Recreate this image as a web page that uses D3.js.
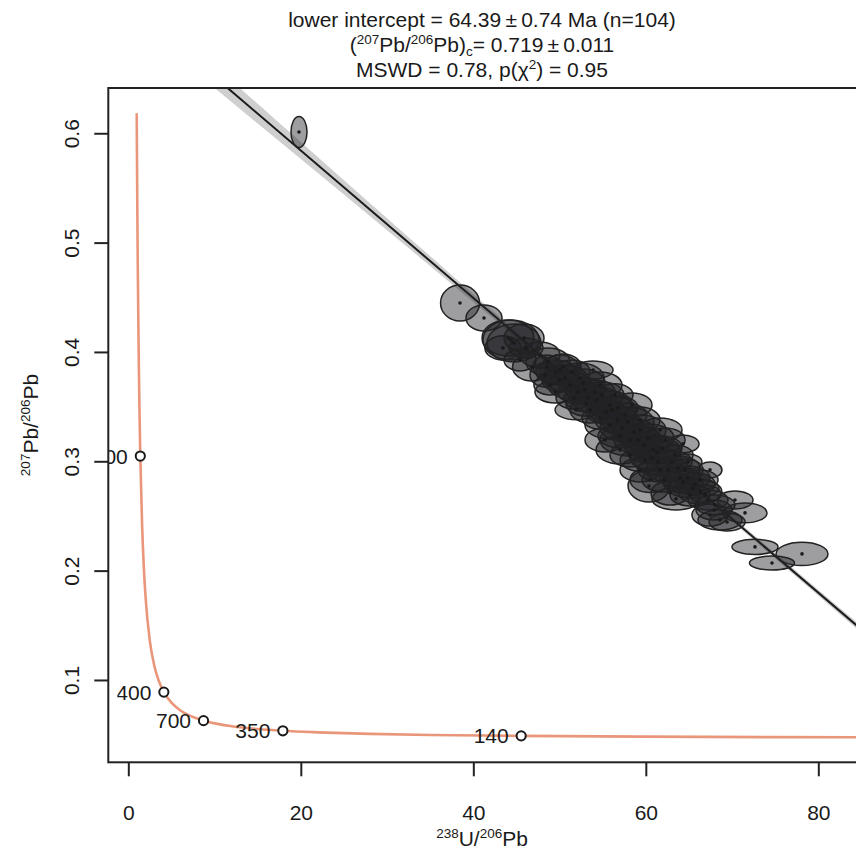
<!DOCTYPE html>
<html>
<head>
<meta charset="utf-8">
<script src="https://cdn.jsdelivr.net/npm/d3@7"></script>
<style>
  body { margin: 0; background: #fff; }
  svg { display: block; font-family: "Liberation Sans", Arial, sans-serif; }
</style>
</head>
<body>
<svg></svg>
<script>
// 238U/206Pb and 207Pb/206Pb of each aliquot, with half-widths of the error ellipses
let ex = [19.79, 38.46, 41.24, 44.37, 44.02, 44.72, 46.11, 43.44, 46.81, 48.55, 50.05, 45.42,
  50.40, 49.47, 51.91, 54.34, 53.88, 51.21, 52.95, 52.37, 54.69, 55.85, 50.05, 53.53, 48.31,
  56.66, 58.17, 60.83, 61.30, 55.85, 57.59, 59.33, 55.27, 57.01, 59.91, 62.23, 63.39, 59.33,
  61.65, 64.31, 64.89, 58.40, 56.43,
  60.37, 63.50, 65.47, 60.49, 62.81, 61.65, 63.97, 66.28, 66.86, 64.55, 59.33, 67.44,
  71.50, 68.60, 69.42, 67.44, 70.34, 68.02,
  72.66, 74.63, 78.11,
  47.73, 48.66, 49.59, 50.63, 51.44, 52.14, 52.72, 53.30, 54.11, 54.92, 55.39, 56.08, 56.78,
  57.24, 57.94, 58.63, 59.10, 59.79, 60.26, 60.72, 61.42, 61.88, 62.57, 63.04, 63.73, 64.31,
  64.89, 65.71, 66.28, 67.21, 67.91, 54.69, 53.07, 51.68, 57.01, 58.17, 62.11, 65.13, 48.89,
  45.88];
let ey = [0.6012, 0.4448, 0.4311, 0.4110, 0.4128, 0.4082, 0.4037, 0.4037, 0.3863, 0.3863, 0.3835, 0.3927,
  0.3863, 0.3634, 0.3470, 0.3561, 0.3835, 0.3698, 0.3653, 0.3762, 0.3698, 0.3515, 0.3744, 0.3470, 0.3790,
  0.3378, 0.3195, 0.3104, 0.3085, 0.3332, 0.3424, 0.3287, 0.3195, 0.3104, 0.3012, 0.3195, 0.3058, 0.3378,
  0.3287, 0.3159, 0.2994, 0.3515, 0.3607,
  0.2774, 0.2656, 0.2756, 0.2829, 0.2710, 0.2921, 0.2848, 0.2829, 0.2701, 0.2921, 0.2921, 0.2921,
  0.2528, 0.2463, 0.2445, 0.2509, 0.2646, 0.2601,
  0.2217, 0.2070, 0.2153,
  0.3973, 0.3909, 0.3817, 0.3762, 0.3817, 0.3634, 0.3717, 0.3579, 0.3634, 0.3607, 0.3451, 0.3470, 0.3488,
  0.3305, 0.3360, 0.3268, 0.3195, 0.3150, 0.3214, 0.3031, 0.2994, 0.3122, 0.2921, 0.2994, 0.2939, 0.2811,
  0.2848, 0.2793, 0.2720, 0.2646, 0.2555, 0.3396, 0.3524, 0.3579, 0.3232, 0.3058, 0.2829, 0.2692, 0.3698,
  0.4128];
let sx = [0.93, 2.26, 2.09, 3.25, 3.01, 3.13, 1.97, 2.09, 2.26, 1.62, 2.32, 1.86,
  2.09, 2.32, 2.43, 2.90, 2.32, 2.55, 2.32, 2.78, 2.55, 2.55, 2.09, 2.32, 1.74,
  2.55, 3.48, 3.13, 2.78, 2.90, 2.55, 3.01, 2.32, 2.78, 2.90, 2.32, 2.09, 2.32,
  2.55, 1.86, 1.62, 2.32, 2.09,
  2.43, 2.78, 3.01, 2.32, 2.20, 2.55, 2.32, 2.09, 1.86, 2.09, 2.32, 1.39,
  2.55, 2.55, 2.09, 2.09, 2.09, 2.32,
  2.67, 2.61, 3.01,
  2.32, 2.55, 2.32, 2.55, 2.09, 2.32, 2.55, 2.78, 2.32, 2.55, 2.32, 2.78, 2.32,
  2.55, 3.01, 2.55, 2.78, 2.32, 3.01, 2.55, 2.78, 2.32, 2.55, 2.32, 2.55, 2.32,
  2.55, 2.32, 2.55, 2.32, 2.09, 2.09, 2.32, 2.09, 2.55, 2.32, 2.55, 2.32, 1.86,
  2.32];
let sy = [0.0142, 0.0165, 0.0119, 0.0183, 0.0165, 0.0174, 0.0091, 0.0110, 0.0128, 0.0110, 0.0137, 0.0101,
  0.0119, 0.0101, 0.0091, 0.0119, 0.0082, 0.0128, 0.0110, 0.0137, 0.0119, 0.0128, 0.0110, 0.0119, 0.0110,
  0.0119, 0.0146, 0.0128, 0.0101, 0.0128, 0.0110, 0.0137, 0.0110, 0.0128, 0.0110, 0.0110, 0.0091, 0.0119,
  0.0110, 0.0082, 0.0073, 0.0110, 0.0101,
  0.0146, 0.0101, 0.0091, 0.0114, 0.0110, 0.0110, 0.0101, 0.0091, 0.0082, 0.0101, 0.0110, 0.0073,
  0.0091, 0.0091, 0.0082, 0.0101, 0.0082, 0.0091,
  0.0069, 0.0064, 0.0107,
  0.0119, 0.0128, 0.0110, 0.0119, 0.0110, 0.0110, 0.0128, 0.0128, 0.0110, 0.0119, 0.0110, 0.0128, 0.0110,
  0.0119, 0.0137, 0.0119, 0.0128, 0.0110, 0.0128, 0.0110, 0.0119, 0.0110, 0.0110, 0.0101, 0.0110, 0.0101,
  0.0110, 0.0101, 0.0110, 0.0091, 0.0091, 0.0101, 0.0110, 0.0101, 0.0110, 0.0110, 0.0110, 0.0101, 0.0091,
  0.0128];

// concordia curve read along its length
let concX = [0.975, 1.0, 1.05, 1.1, 1.2, 1.3, 1.39, 1.6, 1.8, 2.0, 2.5, 3.0, 3.5, 4.12, 5, 6, 7,
  8.72, 10, 12, 15, 17.92, 22, 28, 35, 45.55, 60, 75, 90, 100];
let concY = [0.6182, 0.5841, 0.5252, 0.4762, 0.3997, 0.3436, 0.3048, 0.2416, 0.2028, 0.1759, 0.1355,
  0.1135, 0.0998, 0.0889, 0.0792, 0.0723, 0.0678, 0.0628, 0.0603, 0.0577, 0.0551, 0.0535, 0.0521,
  0.0507, 0.0497, 0.0489, 0.0482, 0.0477, 0.0475, 0.0473];

// age marks on the concordia (Ma)
let ageLabels = ["3500", "1400", "700", "350", "140"];
let ageX = [1.39, 4.12, 8.72, 17.92, 45.55];
let ageY = [0.3048, 0.0889, 0.0628, 0.0535, 0.0489];

// isochron: common Pb intercept and lower intercept
let lineX = [0, 99.6];
let lineY = [0.719, 0.0477];
let bandX = [0, 10, 20, 30, 40, 50, 60, 70, 80, 90, 100];
let bandH = [0.0125, 0.0102, 0.0078, 0.0055, 0.0037, 0.0026, 0.0022, 0.0023, 0.0028, 0.0036, 0.0045];

let xTicks = [0, 20, 40, 60, 80];
let yTicks = [0.1, 0.2, 0.3, 0.4, 0.5, 0.6];

let width = 856;
let height = 849;
let pLeft = 108.3, pRight = 856.35, pTop = 88, pBottom = 762.3;
let fs = 21, fsSmall = 13.5;

let svg = d3.select("svg").attr("width", width).attr("height", height);

let xScale = d3.scaleLinear().domain([-2.32, 84.41]).range([pLeft, pRight]);
let yScale = d3.scaleLinear().domain([0.0247, 0.6414]).range([pBottom, pTop]);

let defs = svg.append("defs");
defs.append("clipPath").attr("id", "plotclip")
  .append("rect")
  .attr("x", pLeft).attr("y", pTop)
  .attr("width", pRight - pLeft).attr("height", pBottom - pTop);
// the thousands digit of the 1400 label falls outside the frame in the original
defs.append("clipPath").attr("id", "labelclip")
  .append("rect")
  .attr("x", pLeft + 9).attr("y", pTop)
  .attr("width", pRight - pLeft).attr("height", pBottom - pTop);

let plot = svg.append("g").attr("clip-path", "url(#plotclip)");

// confidence band
let bandIdx = d3.range(bandX.length);
let lineAt = (x) => lineY[0] + (lineY[1] - lineY[0]) * (x - lineX[0]) / (lineX[1] - lineX[0]);
plot.append("path")
  .datum(bandIdx)
  .attr("fill", "#cfcfcf")
  .attr("d", d3.area()
    .x((i) => xScale(bandX[i]))
    .y0((i) => yScale(lineAt(bandX[i]) - bandH[i]))
    .y1((i) => yScale(lineAt(bandX[i]) + bandH[i]))
    .curve(d3.curveMonotoneX));

plot.append("line")
  .attr("x1", xScale(lineX[0])).attr("y1", yScale(lineY[0]))
  .attr("x2", xScale(lineX[1])).attr("y2", yScale(lineY[1]))
  .attr("stroke", "#1a1a1a")
  .attr("stroke-width", 2);

// concordia
plot.append("path")
  .datum(d3.range(concX.length))
  .attr("fill", "none")
  .attr("stroke", "#e9967a")
  .attr("stroke-width", 2.6)
  .attr("d", d3.line()
    .x((i) => xScale(concX[i]))
    .y((i) => yScale(concY[i]))
    .curve(d3.curveMonotoneX));

// error ellipses
let idx = d3.range(ex.length);
plot.selectAll("ellipse.err")
  .data(idx)
  .enter()
  .append("ellipse")
  .attr("class", "err")
  .attr("cx", (i) => xScale(ex[i]))
  .attr("cy", (i) => yScale(ey[i]))
  .attr("rx", (i) => xScale(ex[i] + sx[i]) - xScale(ex[i]))
  .attr("ry", (i) => yScale(ey[i]) - yScale(ey[i] + sy[i]))
  .attr("fill", "rgba(34,34,38,0.44)")
  .attr("stroke", "#222")
  .attr("stroke-width", 1.5);

plot.selectAll("circle.ctr")
  .data(idx)
  .enter()
  .append("circle")
  .attr("class", "ctr")
  .attr("cx", (i) => xScale(ex[i]))
  .attr("cy", (i) => yScale(ey[i]))
  .attr("r", 1.8)
  .attr("fill", "#1a1a1a");

// age marks
let ages = d3.range(ageLabels.length);
plot.selectAll("circle.age")
  .data(ages)
  .enter()
  .append("circle")
  .attr("class", "age")
  .attr("cx", (i) => xScale(ageX[i]))
  .attr("cy", (i) => yScale(ageY[i]))
  .attr("r", 4.6)
  .attr("fill", "#fff")
  .attr("stroke", "#1a1a1a")
  .attr("stroke-width", 2);

svg.selectAll("text.age")
  .data(ages)
  .enter()
  .append("text")
  .attr("class", "age")
  .attr("clip-path", (i) => (i === 1 ? "url(#labelclip)" : "url(#plotclip)"))
  .attr("x", (i) => xScale(ageX[i]) - 12.5)
  .attr("y", (i) => yScale(ageY[i]))
  .attr("dy", "0.36em")
  .attr("text-anchor", "end")
  .attr("font-size", fs)
  .attr("fill", "#1a1a1a")
  .text((i) => ageLabels[i]);

// frame
svg.append("rect")
  .attr("x", pLeft).attr("y", pTop)
  .attr("width", pRight - pLeft + 4).attr("height", pBottom - pTop)
  .attr("fill", "none")
  .attr("stroke", "#222")
  .attr("stroke-width", 2);

// axes
let xAxis = d3.axisBottom(xScale).tickValues(xTicks).tickSize(14).tickPadding(29).tickFormat(d3.format("d"));
let gx = svg.append("g")
  .attr("transform", "translate(0," + pBottom + ")")
  .call(xAxis);
gx.select(".domain").remove();
gx.selectAll("line").attr("stroke", "#222").attr("stroke-width", 2);
gx.selectAll("text").attr("font-size", fs).attr("fill", "#1a1a1a").attr("font-family", "Liberation Sans, Arial, sans-serif");

let yAxis = d3.axisLeft(yScale).tickValues(yTicks).tickSize(14).tickFormat(d3.format(".1f"));
let gy = svg.append("g")
  .attr("transform", "translate(" + pLeft + ",0)")
  .call(yAxis);
gy.select(".domain").remove();
gy.selectAll("line").attr("stroke", "#222").attr("stroke-width", 2);
gy.selectAll("text")
  .attr("font-size", fs).attr("fill", "#1a1a1a")
  .attr("font-family", "Liberation Sans, Arial, sans-serif")
  .attr("text-anchor", "middle")
  .attr("x", 0).attr("dy", 0)
  .attr("transform", "translate(-29,0) rotate(-90)");

// axis titles
let xt = svg.append("text")
  .attr("x", 482).attr("y", 846)
  .attr("text-anchor", "middle")
  .attr("font-size", fs).attr("fill", "#1a1a1a");
xt.append("tspan").attr("font-size", fsSmall).attr("dy", -8).text("238");
xt.append("tspan").attr("dy", 8).text("U/");
xt.append("tspan").attr("font-size", fsSmall).attr("dy", -8).text("206");
xt.append("tspan").attr("dy", 8).text("Pb");

let yt = svg.append("text")
  .attr("transform", "translate(38,425) rotate(-90)")
  .attr("text-anchor", "middle")
  .attr("font-size", fs).attr("fill", "#1a1a1a");
yt.append("tspan").attr("font-size", fsSmall).attr("dy", -8).text("207");
yt.append("tspan").attr("dy", 8).text("Pb/");
yt.append("tspan").attr("font-size", fsSmall).attr("dy", -8).text("206");
yt.append("tspan").attr("dy", 8).text("Pb");

// title
svg.append("text")
  .attr("x", 482).attr("y", 27)
  .attr("text-anchor", "middle")
  .attr("font-size", fs).attr("fill", "#1a1a1a")
  .text("lower intercept = 64.39\u2009\u00b1\u20090.74 Ma (n=104)");

let t2 = svg.append("text")
  .attr("x", 482).attr("y", 52)
  .attr("text-anchor", "middle")
  .attr("font-size", fs).attr("fill", "#1a1a1a");
t2.append("tspan").text("(");
t2.append("tspan").attr("font-size", fsSmall).attr("dy", -8).text("207");
t2.append("tspan").attr("dy", 8).text("Pb/");
t2.append("tspan").attr("font-size", fsSmall).attr("dy", -8).text("206");
t2.append("tspan").attr("dy", 8).text("Pb)");
t2.append("tspan").attr("font-size", fsSmall).attr("dy", 4).text("c");
t2.append("tspan").attr("dy", -4).text("= 0.719\u2009\u00b1\u20090.011");

let t3 = svg.append("text")
  .attr("x", 482).attr("y", 77)
  .attr("text-anchor", "middle")
  .attr("font-size", fs).attr("fill", "#1a1a1a");
t3.append("tspan").text("MSWD = 0.78, p(\u03c7");
t3.append("tspan").attr("font-size", fsSmall).attr("dy", -8).text("2");
t3.append("tspan").attr("dy", 8).text(") = 0.95");
</script>
</body>
</html>
